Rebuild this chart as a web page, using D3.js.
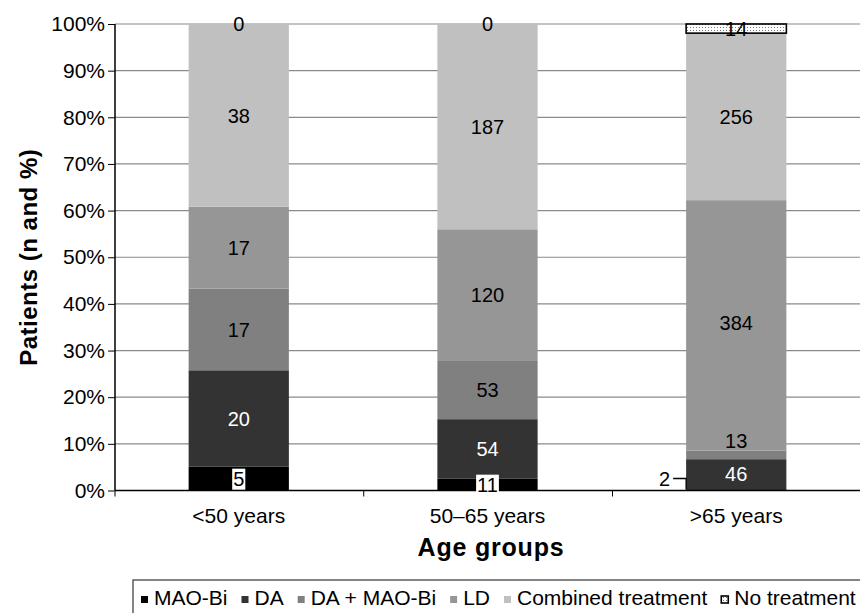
<!DOCTYPE html>
<html>
<head>
<meta charset="utf-8">
<script src="https://cdn.jsdelivr.net/npm/d3@7"></script>
<style>
  body { margin: 0; background: #fff; }
  text { font-family: "Liberation Sans", Arial, sans-serif; }
</style>
</head>
<body>
<script>
const groups = ["<50 years", "50–65 years", ">65 years"];
const treatments = ["MAO-Bi", "DA", "DA + MAO-Bi", "LD", "Combined treatment", "No treatment"];
const maoBi = [5, 11, 2];
const da = [20, 54, 46];
const daMaoBi = [17, 53, 13];
const ld = [17, 120, 384];
const combined = [38, 187, 256];
const noTreatment = [0, 0, 14];
const yTicks = [0, 10, 20, 30, 40, 50, 60, 70, 80, 90, 100];

const seriesValues = [maoBi, da, daMaoBi, ld, combined, noTreatment];
const colors = ["#000000", "#333333", "#808080", "#969696", "#c0c0c0", "url(#dots)"];
const labelColors = ["#000", "#fff", "#000", "#000", "#000", "#000"];

const width = 860, height = 613;
const dims = {left: 115, right: 860, top: 24, bottom: 490.5};

const svg = d3.select("body").append("svg")
    .attr("width", width)
    .attr("height", height);

const pat = svg.append("defs").append("pattern")
    .attr("id", "dots")
    .attr("width", 3).attr("height", 3)
    .attr("patternUnits", "userSpaceOnUse");
pat.append("rect").attr("width", 3).attr("height", 3).attr("fill", "#fff");
pat.append("rect").attr("width", 1).attr("height", 1).attr("fill", "#777");

// table of rows for d3.stack, percentages per group
const rows = groups.map((g, i) => {
    const total = d3.sum(seriesValues, s => s[i]);
    const row = {group: g, total};
    treatments.forEach((t, k) => row[t] = seriesValues[k][i] / total * 100);
    return row;
});
const stacked = d3.stack().keys(treatments)(rows);

const x = d3.scaleBand().domain(groups).range([dims.left, dims.right])
    .paddingInner(0.597).paddingOuter(0.296);
const y = d3.scaleLinear().domain([0, 100]).range([dims.bottom, dims.top]);

// gridlines
svg.append("g")
    .selectAll("line")
    .data(yTicks)
    .join("line")
    .attr("x1", dims.left).attr("x2", dims.right)
    .attr("y1", d => y(d)).attr("y2", d => y(d))
    .attr("stroke", "#8a8a8a")
    .attr("stroke-width", 1.2);

// bars
stacked.forEach((layer, k) => {
    svg.append("g")
        .selectAll("rect")
        .data(layer)
        .join("rect")
        .attr("x", d => x(d.data.group))
        .attr("width", x.bandwidth())
        .attr("y", d => y(d[1]))
        .attr("height", d => y(d[0]) - y(d[1]))
        .attr("fill", colors[k])
        .attr("stroke", k === 5 ? "#000" : "none")
        .attr("stroke-width", k === 5 ? 1.6 : 0)
        .attr("display", d => d[1] - d[0] > 0 ? null : "none");
});

// axes
const step = x.step();
const boundaries = [0, 1, 2, 3].map(i => dims.left + i * step);
svg.append("g")
    .attr("transform", `translate(${dims.left},0)`)
    .call(d3.axisLeft(y).tickValues(yTicks).tickFormat(d => d + "%").tickSize(7).tickPadding(3))
    .call(g => g.select(".domain").attr("stroke", "#000").attr("stroke-width", 1.5).attr("d", `M0,${dims.top}V${dims.bottom}`))
    .call(g => g.selectAll(".tick line").attr("stroke", "#000"))
    .call(g => g.selectAll(".tick text").attr("font-size", 21).attr("fill", "#000")
        .attr("font-family", "Liberation Sans, Arial, sans-serif"));

svg.append("line")
    .attr("x1", dims.left).attr("x2", dims.right)
    .attr("y1", dims.bottom).attr("y2", dims.bottom)
    .attr("stroke", "#000").attr("stroke-width", 1.5);
svg.append("g")
    .selectAll("line")
    .data(boundaries)
    .join("line")
    .attr("x1", d => d).attr("x2", d => d)
    .attr("y1", dims.bottom).attr("y2", dims.bottom + 6)
    .attr("stroke", "#000");
svg.append("g")
    .selectAll("text")
    .data(groups)
    .join("text")
    .attr("x", d => x(d) + x.bandwidth() / 2)
    .attr("y", 523)
    .attr("text-anchor", "middle")
    .attr("font-size", 21)
    .text(d => d);

// axis titles
svg.append("text")
    .attr("x", 491)
    .attr("y", 556)
    .attr("text-anchor", "middle")
    .attr("font-size", 25)
    .attr("font-weight", "bold")
    .attr("letter-spacing", 0.8)
    .text("Age groups");
svg.append("text")
    .attr("transform", `translate(37,${(dims.top + dims.bottom) / 2}) rotate(-90)`)
    .attr("text-anchor", "middle")
    .attr("font-size", 24)
    .attr("font-weight", "bold")
    .attr("letter-spacing", 0.5)
    .text("Patients (n and %)");

// data labels
const labels = svg.append("g");
stacked.forEach((layer, k) => {
    layer.forEach((d, i) => {
        const value = seriesValues[k][i];
        const cx = x(d.data.group) + x.bandwidth() / 2;
        const h = y(d[0]) - y(d[1]);
        let cy = (y(d[0]) + y(d[1])) / 2;
        if (h < 3 && k === 0) {
            // tiny bottom segment: label outside with leader line
            const bx = x(d.data.group);
            const ly = dims.bottom - 12;
            labels.append("path")
                .attr("d", `M${bx - 13},${ly}H${bx}V${dims.bottom - 1}`)
                .attr("fill", "none").attr("stroke", "#000").attr("stroke-width", 1.3);
            labels.append("text")
                .attr("x", bx - 16).attr("y", ly)
                .attr("dy", "0.36em")
                .attr("text-anchor", "end")
                .attr("font-size", 20)
                .text(value);
            return;
        }
        if (h > 0 && h < 12 && k < treatments.length - 1) cy -= 14;
        if (h > 250) cy -= 3;
        const t = labels.append("text")
            .attr("x", cx).attr("y", cy)
            .attr("dy", "0.36em")
            .attr("text-anchor", "middle")
            .attr("font-size", 20)
            .attr("fill", labelColors[k])
            .text(value);
        if (k === 0) {
            const b = t.node().getBBox();
            labels.insert("rect", () => t.node())
                .attr("x", b.x - 1).attr("y", b.y + 1)
                .attr("width", b.width + 2).attr("height", b.height - 1)
                .attr("fill", "#fff");
        }
    });
});

// legend
svg.append("rect")
    .attr("x", 133).attr("y", 580)
    .attr("width", 740).attr("height", 50)
    .attr("fill", "#fff").attr("stroke", "#444").attr("stroke-width", 1.3);
const legend = svg.append("g").attr("transform", "translate(141,597)");
let lx = 0;
treatments.forEach((t, k) => {
    legend.append("rect")
        .attr("x", lx).attr("y", -1)
        .attr("width", 7).attr("height", 7)
        .attr("fill", colors[k])
        .attr("stroke", k === 5 ? "#000" : "none")
        .attr("stroke-width", 1.6);
    const txt = legend.append("text")
        .attr("x", lx + 13).attr("y", 0)
        .attr("dy", "0.36em")
        .attr("font-size", 21)
        .text(t);
    lx += 13 + txt.node().getComputedTextLength() + 14;
});
</script>
</body>
</html>
